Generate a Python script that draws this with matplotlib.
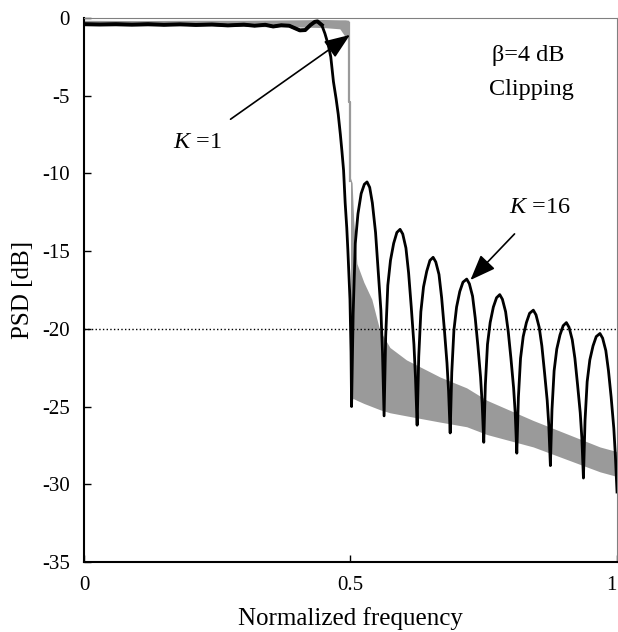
import matplotlib
matplotlib.use('Agg')
import matplotlib.pyplot as plt

plt.rcParams['font.family'] = ['Liberation Serif', 'DejaVu Serif']
plt.rcParams['mathtext.fontset'] = 'custom'
plt.rcParams['mathtext.rm'] = 'Liberation Serif'
plt.rcParams['mathtext.it'] = 'Liberation Serif:italic'
plt.rcParams['axes.unicode_minus'] = False

# K=16 curve (black)
black_freq = [0.000, 0.030, 0.060, 0.090, 0.120, 0.150, 0.180, 0.210, 0.240, 0.270,
              0.300, 0.320, 0.340, 0.355, 0.370, 0.385, 0.395, 0.405, 0.415, 0.425,
              0.433, 0.438,
              0.446, 0.452, 0.458, 0.463, 0.468, 0.473, 0.477, 0.481, 0.484, 0.487,
              0.490, 0.493, 0.495, 0.497, 0.499, 0.501,
              0.502, 0.505, 0.509, 0.514, 0.520, 0.526, 0.531, 0.536, 0.541, 0.547, 0.552, 0.557, 0.560,
              0.563, 0.566, 0.570, 0.575, 0.581, 0.587, 0.593, 0.598, 0.604, 0.609, 0.614, 0.619, 0.622,
              0.625, 0.628, 0.632, 0.637, 0.643, 0.649, 0.655, 0.660, 0.666, 0.671, 0.676, 0.681, 0.684,
              0.687, 0.690, 0.694, 0.699, 0.705, 0.711, 0.718, 0.723, 0.729, 0.734, 0.739, 0.744, 0.747,
              0.750, 0.753, 0.757, 0.762, 0.768, 0.774, 0.780, 0.785, 0.791, 0.796, 0.801, 0.806, 0.809,
              0.812, 0.815, 0.819, 0.824, 0.830, 0.836, 0.843, 0.848, 0.854, 0.859, 0.864, 0.869, 0.872,
              0.875, 0.878, 0.882, 0.887, 0.893, 0.899, 0.905, 0.910, 0.916, 0.921, 0.926, 0.931, 0.934,
              0.937, 0.940, 0.944, 0.949, 0.955, 0.961, 0.968, 0.973, 0.979, 0.984, 0.989, 0.994, 0.997,
              1.000]
black_psd = [-0.40, -0.42, -0.40, -0.43, -0.40, -0.44, -0.41, -0.45, -0.42, -0.48,
             -0.43, -0.50, -0.44, -0.55, -0.47, -0.50, -0.65, -0.80, -0.78, -0.45,
             -0.25, -0.22,
             -0.45, -1.0, -1.7, -2.5, -4.1, -5.2, -6.2, -7.5, -8.6, -9.8,
             -11.9, -13.5, -14.9, -16.5, -18.1, -21.5,
             -25.0, -19.0, -14.5, -12.6, -11.3, -10.7, -10.55, -10.9, -11.9, -13.8, -16.3, -18.8, -21.5,
             -25.6, -20.5, -17.2, -15.6, -14.5, -13.8, -13.6, -13.9, -14.8, -16.4, -18.6, -21.0, -23.2,
             -26.2, -21.8, -18.9, -17.3, -16.3, -15.6, -15.4, -15.7, -16.5, -18.0, -20.0, -22.2, -24.0,
             -26.7, -22.8, -20.1, -18.6, -17.6, -17.0, -16.8, -17.1, -17.9, -19.3, -21.1, -23.1, -24.8,
             -27.3, -23.6, -21.0, -19.6, -18.6, -18.0, -17.8, -18.1, -18.9, -20.2, -21.9, -23.8, -25.4,
             -28.0, -24.4, -21.9, -20.5, -19.6, -19.0, -18.8, -19.1, -19.9, -21.1, -22.8, -24.6, -26.2,
             -28.8, -25.2, -22.7, -21.3, -20.4, -19.8, -19.6, -19.9, -20.7, -21.9, -23.6, -25.4, -27.0,
             -29.6, -25.9, -23.4, -22.0, -21.1, -20.5, -20.3, -20.6, -21.4, -22.7, -24.4, -26.4, -28.2,
             -30.5]
n_pass = 23  # points of the flat passband part (drawn a bit heavier)

# K=1 curve (gray): passband band, edge, stopband band
gray_pass_freq = [0.000, 0.100, 0.200, 0.300, 0.400, 0.450, 0.480, 0.490, 0.497]
gray_pass_upper = [-0.15, -0.17, -0.15, -0.15, -0.12, -0.10, -0.12, -0.12, -0.15]
gray_pass_lower = [-0.50, -0.52, -0.50, -0.55, -0.58, -0.62, -0.70, -1.20, -1.30]
gray_edge_freq = [0.497, 0.497, 0.500, 0.500]
gray_edge_psd = [-0.30, -5.40, -5.40, -10.5]
gray_stop_freq = [0.500, 0.503, 0.506, 0.512, 0.525, 0.540, 0.555, 0.574, 0.605,
                  0.668, 0.718, 0.756, 0.843, 0.968, 1.000]
gray_stop_upper = [-10.3, -10.6, -13.0, -15.8, -17.0, -18.1, -20.1, -21.2, -22.0,
                   -23.1, -23.8, -24.6, -25.9, -27.6, -27.9]
gray_stop_lower = [-24.5, -24.5, -24.5, -24.6, -24.8, -25.0, -25.2, -25.4, -25.6,
                   -26.0, -26.3, -26.8, -27.6, -29.2, -29.5]

ref_level = -20
x_ticks = [0, 0.5, 1]
x_tick_labels = ['0', '0.5', '1']
y_ticks = [0, -5, -10, -15, -20, -25, -30, -35]

fig = plt.figure(figsize=(6.18, 6.32), dpi=100)
ax = fig.add_axes([0.1359, 0.1108, 0.8625, 0.8608])

gray = '#9a9a9a'
ax.fill_between(gray_pass_freq, gray_pass_lower, gray_pass_upper, color=gray, lw=0, zorder=1)
ax.plot(gray_edge_freq, gray_edge_psd, color=gray, lw=1.6, zorder=1)
ax.fill_between(gray_stop_freq, gray_stop_lower, gray_stop_upper, color=gray, lw=0, zorder=1)

ax.axhline(ref_level, color='black', ls=':', lw=1.0, zorder=2)
ax.plot(black_freq, black_psd, color='black', lw=2.0, zorder=3)
ax.plot(black_freq[:n_pass], black_psd[:n_pass], color='black', lw=2.8, zorder=3)

ax.set_xlim(0, 1)
ax.set_ylim(-35, 0)
ax.set_xticks(x_ticks)
ax.set_xticklabels(x_tick_labels)
ax.get_xticklabels()[-1].set_horizontalalignment('right')
ax.set_yticks(y_ticks)
ax.set_yticklabels([str(v) for v in y_ticks])
ax.tick_params(direction='in', length=5, width=1, labelsize=15, pad=10)

ax.spines['left'].set_linewidth(1.5)
ax.spines['bottom'].set_linewidth(1.5)
ax.spines['top'].set_color('#808080')
ax.spines['right'].set_color('#808080')

ax.set_xlabel('Normalized frequency', fontsize=18, labelpad=9)
ax.set_ylabel('PSD [dB]', fontsize=18, labelpad=6)

ax.text(0.833, -2.4, 'β=4 dB', fontsize=17.5, ha='center', va='center')
ax.text(0.84, -4.6, 'Clipping', fontsize=17.5, ha='center', va='center')

ax.annotate('$K$ =1', xy=(0.499, -1.09), xytext=(0.212, -8.04),
            fontsize=17.5, ha='center', va='center',
            arrowprops=dict(arrowstyle='-|>,head_length=0.9,head_width=0.35',
                            color='black', lw=1.2, shrinkA=13, shrinkB=0))
ax.annotate('$K$ =16', xy=(0.725, -16.86), xytext=(0.855, -12.2),
            fontsize=17.5, ha='center', va='center',
            arrowprops=dict(arrowstyle='-|>,head_length=0.9,head_width=0.35',
                            color='black', lw=1.2, shrinkA=13, shrinkB=0))

fig.savefig('out.png', dpi=100)
